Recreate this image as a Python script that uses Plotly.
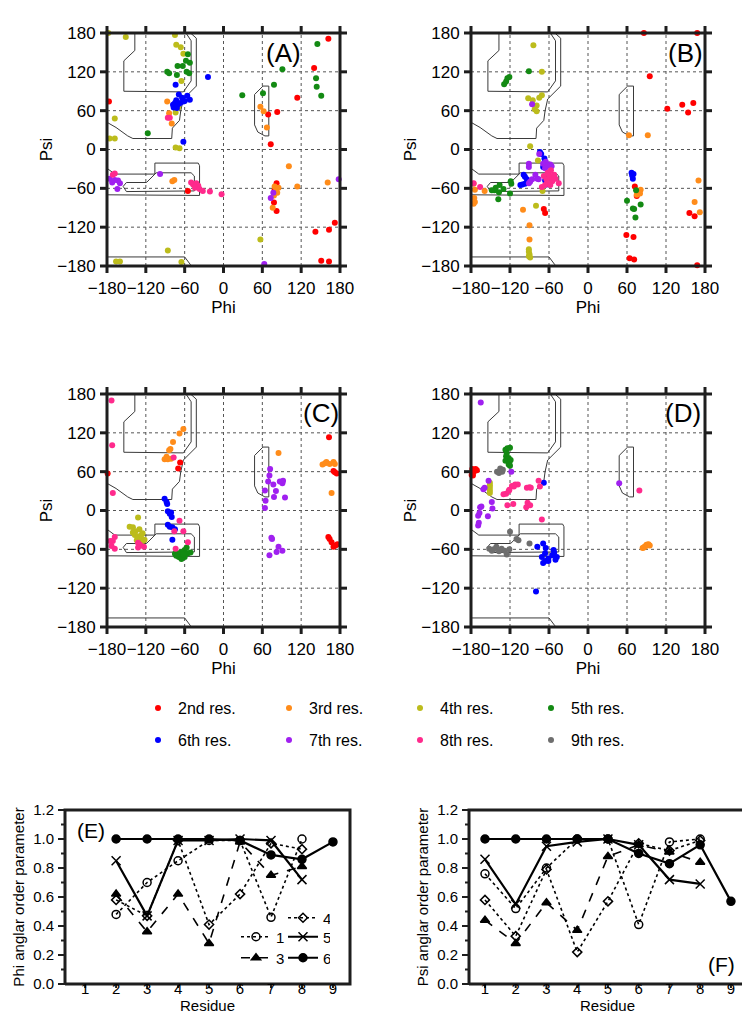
import plotly.graph_objects as go

FONT = "Liberation Sans, Arial, sans-serif"

RES_NAMES = ["2nd res.", "3rd res.", "4th res.", "5th res.",
             "6th res.", "7th res.", "8th res.", "9th res."]
RES_COLORS = ["#ff0000", "#ff8c1a", "#bcbc1c", "#138a13",
              "#0000ff", "#a020f0", "#ff2a8c", "#6e6e6e"]
FRAME_COLOR = "#1e1e1e"

# ---------------- Ramachandran data (phi, psi) ----------------
A_res2 = [(-177, 74), (-55, -64), (69, 54), (83, 58), (73, 8), (82, -52), (79, -62), (78, -82), (82, -95),
          (114, 80), (140, 126), (162, 171), (142, -127), (163, -124), (172, -113), (151, -172), (163, -173)]
A_res3 = [(-87, 74), (-84, 56), (-80, 40), (-79, -49), (-76, -47), (57, 66), (62, 59), (67, 34), (101, -26),
          (114, -57), (161, -51), (79, -57), (81, -64), (83, -67), (78, -71), (76, -90), (85, -59)]
A_res4 = [(-178, 180), (-151, 174), (-75, 177), (-73, 162), (-66, 158), (-62, 148), (-65, 106), (-70, 65),
          (-74, 57), (-168, 48), (-176, 17), (-168, 17), (-74, 3), (-68, 2), (-86, -156), (-65, -174),
          (-166, -173), (-160, -173), (57, -139)]
A_res5 = [(-55, 147), (-58, 137), (-52, 134), (-63, 129), (-71, 129), (-57, 120), (-53, 118), (-87, 120),
          (-84, 118), (-72, 115), (-117, 25), (29, 84), (61, 87), (78, 100), (91, 124), (145, 163),
          (143, 110), (144, 97), (151, 83)]
A_res6 = [(-24, 112), (-74, 100), (-69, 85), (-64, 80), (-56, 83), (-52, 77), (-73, 76), (-75, 72), (-78, 69),
          (-77, 65), (-70, 70), (-67, 72), (-72, 64), (-62, 74), (-60, 75), (-62, 12)]
A_res7 = [(-176, -45), (-172, -51), (-168, -47), (-163, -48), (-160, -52), (-164, -61), (-98, -38),
          (77, -67), (73, -75), (178, -46), (63, -177)]
A_res8 = [(-86, 49), (-83, 49), (-171, -39), (-168, -37), (-50, -51), (-47, -54), (-42, -52), (-39, -56),
          (-44, -59), (-37, -61), (-32, -64), (-21, -65), (-3, -69)]
A_res9 = []

B_res2 = [(86, 180), (168, 180), (95, 113), (122, 63), (145, 69), (154, 57), (162, 72), (72, -57), (75, -72),
          (78, -67), (59, -132), (70, -135), (64, -168), (71, -170), (156, -98), (164, -103), (168, -179),
          (-68, -92), (-66, -98)]
B_res3 = [(-176, -53), (-174, -62), (-175, -75), (-174, -81), (-176, -84), (-159, -64), (-100, -93),
          (-90, -117), (-90, -139), (63, 22), (92, 22), (81, -62), (75, -70), (78, -66), (80, -68),
          (170, -48), (164, -81), (172, -97)]
B_res4 = [(-84, 161), (-71, 120), (-92, 79), (-85, 76), (-79, 68), (-82, 62), (-71, 84), (-75, 80), (-79, 59),
          (-89, 5), (-77, -17), (-70, -64), (-80, -87), (-91, -154), (-91, -158), (-90, -162), (-91, -165),
          (-89, -167)]
B_res5 = [(-91, 121), (-129, 101), (-126, 105), (-124, 110), (-121, 112), (-118, -53), (-119, -49),
          (-136, -55), (-142, -59), (-144, -63), (-137, -66), (-138, -77), (-130, -61), (-148, -63),
          (-120, -68), (74, -63), (60, -79), (81, -85), (69, -91), (71, -92), (73, -105)]
B_res6 = [(-74, -4), (-72, -7), (-67, -14), (-69, -27), (-99, -39), (-97, -42), (-94, -46), (-101, -54),
          (-104, -55), (-97, -53), (-66, -48), (-64, -54), (-62, -44), (67, -36), (70, -38), (69, -45), (68, -40)]
B_res7 = [(-86, 70), (-75, -7), (-91, -22), (-91, -27), (-65, -19), (-69, -22), (-58, -23), (-62, -25),
          (-56, -26), (-66, -29), (-81, -39), (-86, -46), (-89, -50), (-78, -45), (-91, -52), (-76, -46)]
B_res8 = [(-68, -41), (-64, -46), (-60, -39), (-58, -43), (-55, -49), (-52, -39), (-50, -45), (-45, -52),
          (-71, -58), (-63, -52), (-58, -55), (-55, -46), (-52, -44), (-66, -55), (-166, -58), (-176, -52),
          (-62, -36), (-57, -32)]
B_res9 = []

C_res2 = [(-67, 74), (-70, 65), (-179, 57), (163, 113), (170, 61), (175, 57), (172, 59), (162, -41),
          (164, -44), (167, -49), (170, -56), (173, -54), (176, -52)]
C_res3 = [(-62, 126), (-68, 119), (-78, 106), (-82, 95), (-84, 93), (-88, 83), (-91, 79), (-86, 79),
          (-81, 80), (85, 89), (153, 71), (157, 73), (159, 75), (164, 72), (170, 75), (172, 72), (167, 27)]
C_res4 = [(-132, -11), (-145, -25), (-140, -26), (-136, -32), (-130, -29), (-125, -35), (-137, -38),
          (-132, -40), (-129, -42), (-134, -46), (-125, -47), (-122, -45), (-131, -51), (-140, -34), (-127, -38)]
C_res5 = [(-57, -57), (-60, -61), (-65, -64), (-70, -66), (-75, -67), (-69, -72), (-55, -66), (-51, -65),
          (-60, -72), (-65, -75), (-62, -68), (-73, -70)]
C_res6 = [(-91, 18), (-88, 13), (-87, 10), (-86, -1), (-83, -5), (-81, -3), (-80, -10), (-86, -22),
          (-83, -25), (-79, -26), (-75, -29), (-79, -45)]
C_res7 = [(72, 64), (71, 54), (69, 45), (77, 40), (64, 31), (81, 30), (87, 45), (91, 42), (92, 46), (78, 21),
          (95, 20), (65, 15), (64, 4), (74, -42), (75, -44), (85, -56), (82, -64), (91, -62), (71, -69)]
C_res8 = [(-173, 170), (-172, 101), (-171, 27), (-168, -41), (-171, -47), (-175, -47), (-173, -55),
          (-168, -59), (-132, -50), (-129, -53), (-123, -56), (-132, -57), (-68, -16), (-76, -32),
          (-62, -32), (-55, -49), (-74, -59), (-77, 82)]
C_res9 = []

D_res2 = [(-178, 64), (-176, 59), (-173, 64), (-179, 55), (-177, 54), (-171, 62)]
D_res3 = [(84, -58), (87, -56), (90, -53), (93, -52), (95, -54), (86, -57), (89, -55), (92, -53)]
D_res4 = [(-151, 43), (-151, 39), (-151, 35), (-151, 31), (-151, 27)]
D_res5 = [(-127, 94), (-124, 96), (-120, 97), (-126, 84), (-122, 81), (-127, 77), (-121, 74), (-124, 79),
          (-119, 78), (-122, 71), (-120, 69), (-125, 88)]
D_res6 = [(-68, 43), (-78, -56), (-69, -51), (-65, -58), (-66, -66), (-71, -72), (-66, -78), (-69, -81),
          (-61, -74), (-53, -61), (-52, -65), (-55, -69), (-48, -72), (-50, -76), (-61, -78), (-80, -125)]
D_res7 = [(-165, 167), (-153, 46), (-161, 33), (-159, 35), (-148, 13), (-147, 3), (-166, 5), (-164, 6),
          (-169, -8), (-167, -4), (-169, -23), (-168, -19), (-154, -9), (-118, 60), (48, 42)]
D_res8 = [(-121, 32), (-117, 38), (-112, 40), (-108, 40), (-114, 37), (-94, 35), (-90, 36), (-88, 35),
          (-76, 46), (-74, 37), (-126, 26), (-124, 8), (-115, 10), (-95, 5), (-93, 12), (-89, 8), (-71, -14),
          (79, 31), (-130, 25), (-122, 30)]
D_res9 = [(-140, 60), (-135, 65), (-132, 60), (-131, 63), (-137, 58), (-120, -33), (-110, -44), (-107, -46),
          (-90, -51), (-152, -59), (-148, -62), (-141, -56), (-137, -63), (-133, -59), (-128, -62),
          (-125, -68), (-121, -60), (-145, -60)]

# allowed-region outlines (phi, psi)
beta_inner = [(-137, 180), (-137, 153), (-154, 137), (-154, 90), (-62, 89), (-50, 106), (-50, 168), (-58, 180)]
beta_outer = [(-180, 42), (-166, 34), (-148, 21), (-140, 17), (-80, 17), (-79, 33), (-68, 45), (-66, 60),
              (-62, 78), (-42, 98), (-42, 172), (-51, 180)]
beta_bottom = [(-180, -166), (-60, -166), (-51, -178), (-50, -180)]
alpha_outer = [(-180, -29), (-168, -38), (-106, -38), (-106, -21), (-39, -21), (-37, -25), (-37, -71), (-180, -70)]
alpha_inner = [(-155, -57), (-150, -51), (-119, -51), (-104, -36), (-50, -36), (-45, -41), (-45, -64),
               (-150, -65), (-155, -57)]
lalpha = [(48, 85), (61, 98), (70, 98), (70, 21), (64, 21), (53, 27), (48, 38), (48, 85)]
REGIONS = [beta_inner, beta_outer, beta_bottom, alpha_outer, alpha_inner, lalpha]

PANELS = [
    ("A", [A_res2, A_res3, A_res4, A_res5, A_res6, A_res7, A_res8, A_res9]),
    ("B", [B_res2, B_res3, B_res4, B_res5, B_res6, B_res7, B_res8, B_res9]),
    ("C", [C_res2, C_res3, C_res4, C_res5, C_res6, C_res7, C_res8, C_res9]),
    ("D", [D_res2, D_res3, D_res4, D_res5, D_res6, D_res7, D_res8, D_res9]),
]
ANGLE_RANGE = [-180, 180]
ANGLE_TICKS = [-180, -120, -60, 0, 60, 120, 180]

# ---------------- order parameter data ----------------
E_residues = [2, 3, 4, 5, 6, 7, 8]
E_s1 = [0.48, 0.70, 0.85, 0.99, 0.99, 0.46, 1.00]
E_s3 = [0.62, 0.36, 0.62, 0.28, 0.98, 0.75, 0.81]
E_s4 = [0.58, 0.47, 0.99, 0.41, 0.62, 0.97, 0.93]
E_s5 = [0.85, 0.47, 0.99, 0.99, 1.00, 0.99, 0.72]
E_res6 = [2, 3, 4, 5, 6, 7, 8, 9]
E_s6 = [1.00, 1.00, 1.00, 1.00, 0.99, 0.89, 0.86, 0.98]

F_residues = [1, 2, 3, 4, 5, 6, 7, 8]
F_s1 = [0.76, 0.52, 0.80, 1.00, 1.00, 0.41, 0.98, 1.00]
F_s3 = [0.44, 0.28, 0.56, 0.37, 0.88, 0.96, 0.91, 0.84]
F_s4 = [0.58, 0.33, 0.79, 0.22, 0.57, 0.97, 0.92, 0.99]
F_s5 = [0.86, 0.55, 0.95, 0.98, 1.00, 0.96, 0.72, 0.69]
F_res6 = [1, 2, 3, 4, 5, 6, 7, 8, 9]
F_s6 = [1.00, 1.00, 1.00, 1.00, 1.00, 0.90, 0.83, 0.96, 0.57]

RESIDUE_TICKS = [1, 2, 3, 4, 5, 6, 7, 8, 9]
ORDER_TICKS = [0.0, 0.2, 0.4, 0.6, 0.8, 1.0, 1.2]
ORDER_MINOR = [0.1, 0.3, 0.5, 0.7, 0.9, 1.1]
ORDER_RANGE = [0.0, 1.2]
E_XRANGE = [0.35, 9.55]
F_XRANGE = [0.48, 9.49]

SERIES_STYLE = {
    "1": dict(symbol="circle-open", size=8, dash="dot", width=1.6),
    "3": dict(symbol="triangle-up", size=8, dash="dash", width=1.6),
    "4": dict(symbol="diamond-open", size=7, dash="dot", width=1.6),
    "5": dict(symbol="x-thin-open", size=9, dash="solid", width=2.2),
    "6": dict(symbol="circle", size=8, dash="solid", width=2.2),
}
# legend rows of panel E: row1 -> "4", row2 -> "1","5", row3 -> "3","6"
SERIES_LEGEND = {"4": "legend5", "1": "legend2", "5": "legend2", "3": "legend3", "6": "legend3"}

W, H = 750, 1025
PAD = 10  # px kept around each frame so that frame and tick marks stay inside the plot area
fig = go.Figure()

RAMA_BOX = [(99, 332, 25, 258), (463, 697, 25, 258), (99, 332, 386, 619), (463, 697, 386, 619)]
E_BOX = (57, 342, 802, 976)
F_BOX = (461, 738, 802, 976)


def padded(box, xr, yr):
    l, r, t, b = box
    ux = (xr[1] - xr[0]) / (r - l)
    uy = (yr[1] - yr[0]) / (b - t)
    dom_x = [(l - PAD) / W, (r + PAD) / W]
    dom_y = [1 - (b + PAD) / H, 1 - (t - PAD) / H]
    rx = [xr[0] - PAD * ux, xr[1] + PAD * ux]
    ry = [yr[0] - PAD * uy, yr[1] + PAD * uy]
    return dom_x, dom_y, rx, ry, ux, uy


def seg_trace(xs, ys, xa, ya, width, color=FRAME_COLOR, dash="solid"):
    return go.Scatter(x=xs, y=ys, mode="lines", line=dict(color=color, width=width, dash=dash),
                      connectgaps=False, showlegend=False, hoverinfo="skip", xaxis=xa, yaxis=ya)


def frame_trace(xr, yr, xa, ya):
    return seg_trace([xr[0], xr[1], xr[1], xr[0], xr[0]], [yr[0], yr[0], yr[1], yr[1], yr[0]], xa, ya, 3)


layout_axes = {}

# ---------------- Ramachandran panels ----------------
for pi, (label, resdata) in enumerate(PANELS):
    sfx = "" if pi == 0 else str(pi + 1)
    xa, ya = "x" + sfx, "y" + sfx
    dom_x, dom_y, rx, ry, ux, uy = padded(RAMA_BOX[pi], ANGLE_RANGE, ANGLE_RANGE)
    gx, gy = [], []
    for v in ANGLE_TICKS[1:-1]:
        gx += [v, v, None, ANGLE_RANGE[0], ANGLE_RANGE[1], None]
        gy += [ANGLE_RANGE[0], ANGLE_RANGE[1], None, v, v, None]
    fig.add_trace(seg_trace(gx, gy, xa, ya, 1, color="#555555", dash="dot"))
    for reg in REGIONS:
        fig.add_trace(seg_trace([p[0] for p in reg], [p[1] for p in reg], xa, ya, 1, color="#3a3a3a"))
    for ri, pts in enumerate(resdata):
        fig.add_trace(go.Scatter(
            x=[p[0] for p in pts], y=[p[1] for p in pts], mode="markers",
            marker=dict(color=RES_COLORS[ri], size=6, line=dict(width=0)),
            name=RES_NAMES[ri], showlegend=(label == "D"),
            legend=("legend" if ri < 4 else "legend4"), xaxis=xa, yaxis=ya))
    L = 7
    tx, ty = [], []
    lo, hi = ANGLE_RANGE
    for v in ANGLE_TICKS:
        tx += [v, v, None, v, v, None, lo, lo - L * ux, None, hi, hi + L * ux, None]
        ty += [lo, lo - L * uy, None, hi, hi + L * uy, None, v, v, None, v, v, None]
    fig.add_trace(seg_trace(tx, ty, xa, ya, 3))
    fig.add_trace(frame_trace(ANGLE_RANGE, ANGLE_RANGE, xa, ya))

    common = dict(tickvals=ANGLE_TICKS, tickangle=0, showgrid=False, zeroline=False, showline=False,
                  ticks="outside", ticklen=7, tickwidth=1, tickcolor="rgba(0,0,0,0)",
                  ticklabelstandoff=-PAD, tickfont=dict(size=17, family=FONT), automargin=False,
                  fixedrange=True)
    layout_axes["xaxis" + sfx] = dict(domain=dom_x, anchor="y" + sfx, range=rx,
                                      title=dict(text="Phi", font=dict(size=17, family=FONT), standoff=2),
                                      **common)
    layout_axes["yaxis" + sfx] = dict(domain=dom_y, anchor="x" + sfx, range=ry,
                                      title=dict(text="Psi", font=dict(size=17, family=FONT), standoff=0),
                                      **common)


# ---------------- order parameter panels ----------------
def add_series(xs, ys, key, xa, ya, show):
    st = SERIES_STYLE[key]
    fig.add_trace(go.Scatter(
        x=xs, y=ys, mode="lines+markers", name=key,
        line=dict(color="black", width=st["width"], dash=st["dash"]),
        marker=dict(symbol=st["symbol"], size=st["size"], color="black",
                    line=dict(color="black", width=1.5)),
        showlegend=show, legend=SERIES_LEGEND[key], xaxis=xa, yaxis=ya))


for sfx, box, xrng, ytitle, series, res6, s6, show in [
        ("5", E_BOX, E_XRANGE, "Phi anglar order parameter",
         [("1", E_s1), ("3", E_s3), ("4", E_s4), ("5", E_s5)], E_res6, E_s6, True),
        ("6", F_BOX, F_XRANGE, "Psi anglar order parameter",
         [("1", F_s1), ("3", F_s3), ("4", F_s4), ("5", F_s5)], F_res6, F_s6, False)]:
    xa, ya = "x" + sfx, "y" + sfx
    dom_x, dom_y, rx, ry, ux, uy = padded(box, xrng, ORDER_RANGE)
    xs = E_residues if sfx == "5" else F_residues
    for key, ys in series:
        add_series(xs, ys, key, xa, ya, show)
    add_series(res6, s6, "6", xa, ya, show)
    tx, ty = [], []
    for v in ORDER_TICKS:
        tx += [xrng[0], xrng[0] - 7 * ux, None]
        ty += [v, v, None]
    for v in ORDER_MINOR:
        tx += [xrng[0], xrng[0] - 4 * ux, None]
        ty += [v, v, None]
    for v in RESIDUE_TICKS:
        tx += [v, v, None]
        ty += [ORDER_RANGE[0], ORDER_RANGE[0] - 4 * uy, None]
    fig.add_trace(seg_trace(tx, ty, xa, ya, 2))
    fig.add_trace(frame_trace(xrng, ORDER_RANGE, xa, ya))
    layout_axes["xaxis" + sfx] = dict(
        domain=dom_x, anchor="y" + sfx, range=rx, tickvals=RESIDUE_TICKS, tickangle=0,
        showgrid=False, zeroline=False, showline=False, ticks="outside", ticklen=4,
        tickcolor="rgba(0,0,0,0)", ticklabelstandoff=-PAD - 13, tickfont=dict(size=15, family=FONT),
        automargin=False, fixedrange=True,
        title=dict(text="Residue", font=dict(size=15, family=FONT), standoff=0))
    layout_axes["yaxis" + sfx] = dict(
        domain=dom_y, anchor="x" + sfx, range=ry, tickvals=ORDER_TICKS, tickformat=".1f",
        showgrid=False, zeroline=False, showline=False, ticks="outside", ticklen=7,
        tickcolor="rgba(0,0,0,0)", ticklabelstandoff=-PAD, tickfont=dict(size=15, family=FONT),
        automargin=False, fixedrange=True,
        title=dict(text=ytitle, font=dict(size=15, family=FONT), standoff=4))

# ---------------- layout ----------------
layout = dict(width=W, height=H, margin=dict(l=0, r=0, t=0, b=0, pad=0), autosize=False,
              paper_bgcolor="white", plot_bgcolor="rgba(0,0,0,0)",
              font=dict(family=FONT, color="black"), **layout_axes)

main_leg = dict(orientation="h", xanchor="left", yanchor="middle", entrywidth=86,
                entrywidthmode="pixels", font=dict(size=16, family=FONT),
                bgcolor="rgba(0,0,0,0)", itemwidth=30)
layout["legend"] = dict(x=130 / W, y=1 - 700 / H, **main_leg)
layout["legend4"] = dict(x=130 / W, y=1 - 732 / H, **main_leg)
op_leg = dict(orientation="h", xanchor="left", yanchor="middle", entrywidth=2,
              entrywidthmode="pixels", font=dict(size=15, family=FONT),
              bgcolor="rgba(0,0,0,0)", itemwidth=30)
layout["legend5"] = dict(x=275 / W, y=1 - 910 / H, **op_leg)
layout["legend2"] = dict(x=228 / W, y=1 - 929 / H, **op_leg)
layout["legend3"] = dict(x=228 / W, y=1 - 950 / H, **op_leg)

labels = [("(A)", 275, 45, 26), ("(B)", 677, 45, 26), ("(C)", 313, 405, 26), ("(D)", 675, 405, 26),
          ("(E)", 83, 822, 21), ("(F)", 713, 956, 21)]
layout["annotations"] = [dict(text=t, x=xp / W, y=1 - yp / H, xref="paper", yref="paper",
                              showarrow=False, font=dict(size=s, family=FONT), xanchor="center",
                              yanchor="middle") for t, xp, yp, s in labels]

fig.update_layout(**layout)
fig.write_html("out.html")
